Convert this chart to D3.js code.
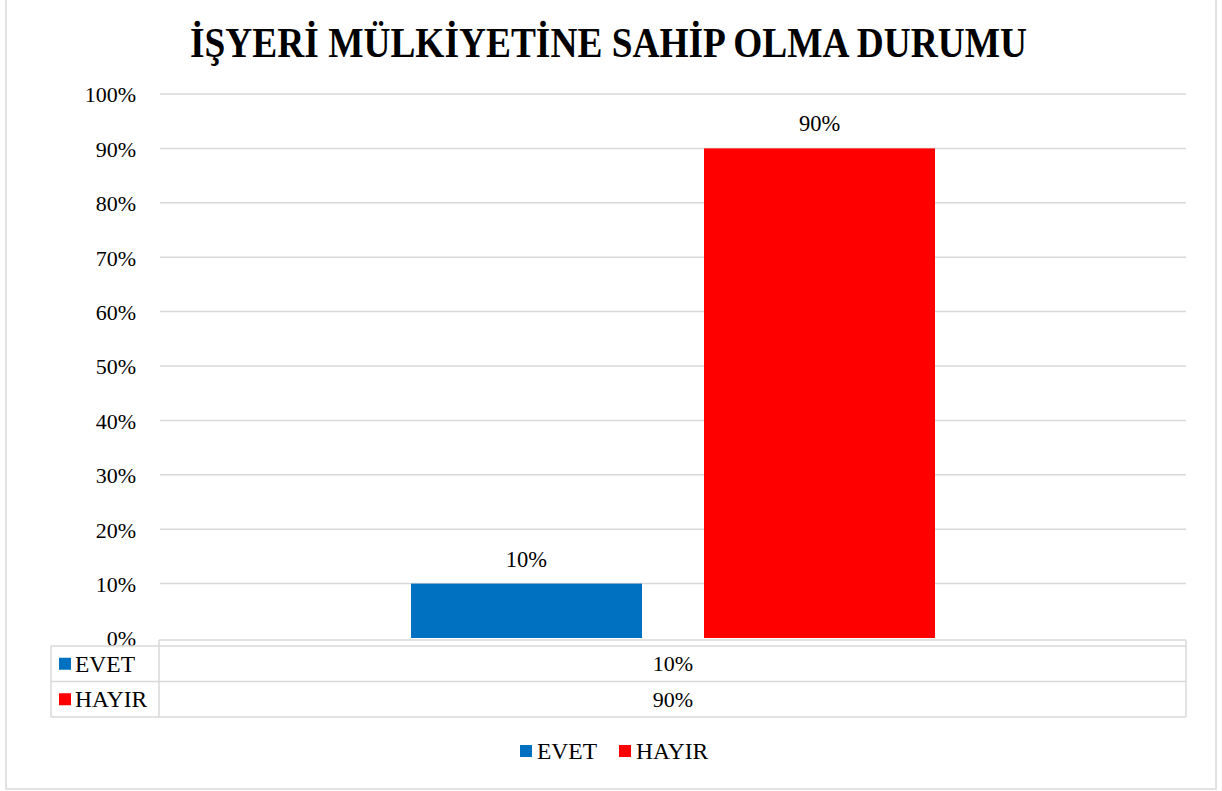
<!DOCTYPE html>
<html><head><meta charset="utf-8">
<script src="https://cdn.jsdelivr.net/npm/d3@7/dist/d3.min.js"></script>
<style>body{margin:0;background:#fff}svg{display:block}</style>
</head><body>
<svg id="c" width="1222" height="791" font-family="'Liberation Serif', 'Times New Roman', serif"></svg>
<script>
const title = "İŞYERİ MÜLKİYETİNE SAHİP OLMA DURUMU";
const categories = [""];
const seriesNames = ["EVET", "HAYIR"];
const seriesValues = [[0.10], [0.90]];
const seriesColors = ["#0070C0", "#FF0000"];
const yTicks = [0,0.1,0.2,0.3,0.4,0.5,0.6,0.7,0.8,0.9,1.0];

(function(){
const FF = "'Liberation Serif', 'Times New Roman', serif";
const svg = d3.select("#c");
const fmt = d3.format(".0%");
const grid = "#d9d9d9";
const T = (sel) => sel.append("text").attr("font-family",FF).attr("fill","#000");

// outer border
svg.append("rect").attr("x",6).attr("y",-1).attr("width",1210).attr("height",790)
  .attr("fill","none").attr("stroke",grid).attr("stroke-width",1.5);

// title
T(svg).attr("x",190).attr("y",57).attr("font-size",43).attr("font-weight","bold")
  .attr("textLength",837).attr("lengthAdjust","spacingAndGlyphs").text(title);

const pL=160, pR=1186, pT=94, pB=638;
const y = d3.scaleLinear().domain([0,1]).range([pB, pT]);
const x0 = d3.scaleBand().domain(categories).range([pL,pR]).paddingInner(0).paddingOuter(0.479);
const x1 = d3.scaleBand().domain(seriesNames).range([0,x0.bandwidth()]).paddingInner(0.2116);

// grid
svg.append("g").selectAll("line").data(yTicks.filter(d=>d>0)).join("line")
  .attr("x1",pL).attr("x2",pR).attr("y1",d=>y(d)).attr("y2",d=>y(d))
  .attr("stroke",grid).attr("stroke-width",1.5);

// y axis labels
const yAxis = d3.axisLeft(y).tickValues(yTicks).tickFormat(fmt).tickSize(0).tickPadding(24);
const ga = svg.append("g").attr("transform",`translate(${pL},0)`).call(yAxis);
ga.attr("font-family",FF).attr("font-size",22);
ga.select(".domain").remove();
ga.selectAll("text").attr("font-family",FF).attr("font-size",22).attr("fill","#000").attr("dy","0.36em");

// bars
categories.forEach((c,ci)=>{
  seriesNames.forEach((s,si)=>{
    const v = seriesValues[si][ci];
    svg.append("rect").attr("x",x0(c)+x1(s)).attr("width",x1.bandwidth())
      .attr("y",y(v)).attr("height",y(0)-y(v)).attr("fill",seriesColors[si]);
    T(svg).attr("x",x0(c)+x1(s)+x1.bandwidth()/2).attr("y",y(v)-17)
      .attr("text-anchor","middle").attr("font-size",22.5).text(fmt(v));
  });
});

// data table
const tTop=640, hTop=646, rowH=35.5, hLeft=51;
const tb = svg.append("g").attr("stroke",grid).attr("stroke-width",1.5).attr("fill","none");
tb.append("line").attr("x1",pL-1).attr("x2",pR).attr("y1",tTop).attr("y2",tTop);
tb.append("line").attr("x1",hLeft).attr("x2",pR).attr("y1",hTop).attr("y2",hTop);
seriesNames.forEach((s,i)=>{
  tb.append("line").attr("x1",hLeft).attr("x2",pR).attr("y1",hTop+rowH*(i+1)).attr("y2",hTop+rowH*(i+1));
});
tb.append("line").attr("x1",hLeft).attr("x2",hLeft).attr("y1",hTop).attr("y2",hTop+rowH*seriesNames.length);
tb.append("line").attr("x1",pL-1).attr("x2",pL-1).attr("y1",tTop).attr("y2",hTop+rowH*seriesNames.length);
tb.append("line").attr("x1",pR).attr("x2",pR).attr("y1",tTop).attr("y2",hTop+rowH*seriesNames.length);
seriesNames.forEach((s,i)=>{
  const cy = hTop+rowH*i+rowH/2;
  svg.append("rect").attr("x",59).attr("y",cy-6).attr("width",12).attr("height",12).attr("fill",seriesColors[i]);
  T(svg).attr("x",75).attr("y",cy).attr("dy","0.35em").attr("font-size",23.5).text(s);
  categories.forEach((c,ci)=>{
    T(svg).attr("x",x0(c)+x0.bandwidth()/2).attr("y",cy).attr("dy","0.35em")
      .attr("text-anchor","middle").attr("font-size",22).text(fmt(seriesValues[i][ci]));
  });
});

// legend
const lg = svg.append("g");
const legX = [520, 619];
seriesNames.forEach((s,i)=>{
  lg.append("rect").attr("x",legX[i]).attr("y",745).attr("width",12).attr("height",12).attr("fill",seriesColors[i]);
  T(lg).attr("x",legX[i]+17).attr("y",751).attr("dy","0.35em").attr("font-size",23.5).text(s);
});
})();
</script>
</body></html>
